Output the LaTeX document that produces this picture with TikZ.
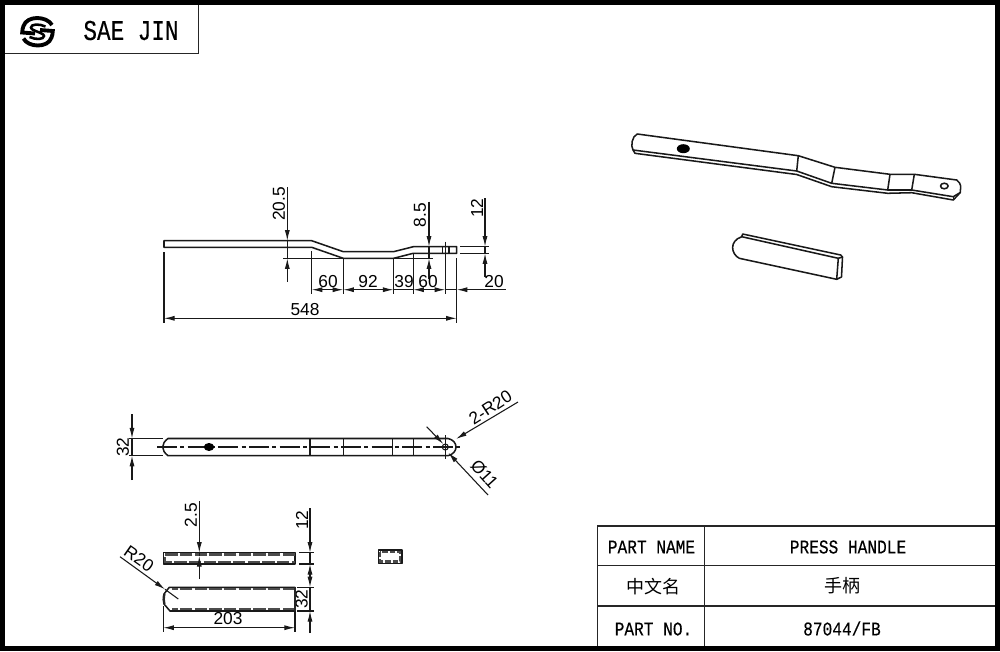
\documentclass[tikz,border=0pt]{standalone}
\usepackage{fontspec}
\usetikzlibrary{arrows.meta}
\setmainfont{Liberation Sans}
\newfontfamily\cadfont[FakeStretch=0.83,FakeBold=0.25]{Liberation Mono}
\newfontfamily\logofont[FakeStretch=0.79,FakeBold=0.25]{Liberation Mono}
\newfontfamily\cjkfont{Noto Sans CJK SC}
\tikzset{
  frameline/.style={draw=black,line width=4pt},
  outline/.style={draw=black!90,line width=1.15pt,line join=round},
  thinline/.style={draw=black!90,line width=0.8pt},
  cellline/.style={draw=black!85,line width=1.05pt},
  hiddenline/.style={draw=black!70,line width=1.7pt,dash pattern=on 9.2pt off 1.8pt},
  centerline/.style={draw=black!90,line width=0.85pt,dash pattern=on 15pt off 2.5pt on 3pt off 2.5pt},
  tip/.style={-{Latex[length=8pt,width=3.8pt]},draw=black!90,line width=0.8pt},
  tips/.style={{Latex[length=8pt,width=3.8pt]}-{Latex[length=8pt,width=3.8pt]},draw=black!90,line width=0.8pt},
  dimtext/.style={font=\fontsize{13pt}{14pt}\selectfont,inner sep=0pt,text=black},
  celltext/.style={font=\cadfont\fontsize{14.6pt}{16pt}\selectfont,inner sep=0pt,text=black},
  cjktext/.style={font=\cjkfont\fontsize{13.5pt}{15pt}\selectfont,inner sep=0pt,text=black},
  logotext/.style={font=\logofont\fontsize{21.5pt}{23pt}\selectfont,inner sep=0pt,text=black},
}
\begin{document}
\begin{tikzpicture}[x=0.75pt,y=-0.75pt]
\useasboundingbox (0,0) rectangle (1000,651);
\fill[white] (0,0) rectangle (1000,651);

% logo box
\draw[cellline] (4,4) -- (198.5,4) -- (198.5,53.5) -- (4,53.5);
\node[logotext] (brand) at (131,30.5) {SAE JIN};
\draw[black,line width=2.9pt] (52,25) .. controls (47,16) and (27,15) .. (23.5,26) .. controls (22.8,28) and (22.2,30) .. (22.2,32.5) -- (35,33.5);
\draw[black,line width=2.9pt] (23.5,38.5) .. controls (28,47.5) and (48,48.5) .. (51.5,37.5) .. controls (52.2,35.5) and (52.8,33.5) .. (52.8,31) -- (40,30);
\draw[black,line width=1.9pt] (45.5,26.5) .. controls (39,23.5) and (31,24) .. (31,27.5) .. controls (31,31) and (44,32.5) .. (44,36) .. controls (44,39.5) and (36,40) .. (29.5,37);

% side view
\draw[outline] (164,247.3) -- (164,240.7) -- (311.7,240.7) -- (343.3,251.7) -- (393.5,251.7) -- (413.3,246.7) -- (456.7,246.7) -- (456.7,253.3) -- (413.3,253.3) -- (393.5,258.3) -- (343.3,258.3) -- (311.7,247.3) -- cycle;
\draw[thinline] (442.3,246.7) -- (442.3,253.3) (449,246.7) -- (449,253.3);
% side view dimensions
\draw[thinline] (283,258.3) -- (343.3,258.3) (393.5,258.3) -- (433,258.3);
\draw[thinline] (460,246.7) -- (488.5,246.7) (460,253.3) -- (488.5,253.3);
\draw[thinline] (164,252) -- (164,322.7);
\draw[thinline] (311.7,251) -- (311.7,294) (343.3,258.3) -- (343.3,294) (393.5,258.3) -- (393.5,294) (413.3,253.3) -- (413.3,294) (445.3,241.5) -- (445.3,294) (456.7,258) -- (456.7,322.7);
\draw[tip] (287.3,187) -- (287.3,240.7);
\draw[thinline] (287.3,240.7) -- (287.3,258.3);
\draw[tip] (287.3,281.7) -- (287.3,258.3);
\draw[tip] (429,201.5) -- (429,246.7);
\draw[thinline] (429,246.7) -- (429,258.3);
\draw[tip] (429,279) -- (429,258.3);
\draw[tip] (485,198) -- (485,246.7);
\draw[thinline] (485,246.7) -- (485,253.3);
\draw[tip] (485,277) -- (485,253.3);
\draw[tips] (311.7,289.7) -- (343.3,289.7);
\draw[tips] (343.3,289.7) -- (393.5,289.7);
\draw[thinline] (393.5,289.7) -- (413.3,289.7);
\draw[tips] (413.3,289.7) -- (445.3,289.7);
\draw[tip] (505.7,289.7) -- (456.7,289.7);
\draw[thinline] (445.3,289.7) -- (456.7,289.7);
\draw[tips] (164,318.3) -- (456.7,318.3);
\node[dimtext,rotate=90] (d205) at (279,204) {20.5};
\node[dimtext,rotate=90] (d85) at (420,215) {8.5};
\node[dimtext,rotate=90] (d12a) at (477,208) {12};
\node[dimtext] (d60a) at (328,282) {60};
\node[dimtext] (d92) at (368,282) {92};
\node[dimtext] (d39) at (404,282) {39};
\node[dimtext] (d60b) at (428,282) {60};
\node[dimtext] (d20) at (494,282) {20};
\node[dimtext] (d548) at (305,310) {548};

% top view
\draw[outline] (168,438.5) .. controls (164.5,441) and (162.7,444) .. (162.7,447) .. controls (162.7,450) and (164.5,453) .. (168,455.7) -- (448,455.7) .. controls (453,454.5) and (456,451) .. (456,447) .. controls (456,443) and (453,439.5) .. (448,438.5) -- cycle;
\draw[thinline] (310,438.5) -- (310,455.7) (343.5,438.5) -- (343.5,455.7) (392.3,438.5) -- (392.3,455.7) (413.3,438.5) -- (413.3,455.7);
\draw[centerline] (157,447) -- (460,447);
\draw[thinline] (445.3,435) -- (445.3,459);
\draw[thinline] (445.3,447) circle (3);
\fill[black] (209,447) ellipse (5.2 and 4);
\draw[thinline] (129,438.5) -- (163,438.5) (129,455.7) -- (163,455.7);
\draw[tip] (132,414) -- (132,438.5);
\draw[thinline] (132,438.5) -- (132,455.7);
\draw[tip] (132,480) -- (132,455.7);
\draw[tip] (518,402) -- (456,439);
\draw[tip] (426.7,426.7) -- (443.3,444);
\draw[tip] (488,495) -- (448.3,452.7);
\node[dimtext,rotate=90] (d32a) at (123,447) {32};
\node[dimtext,rotate=33] (d2r) at (490.5,407.5) {2-R20};
\node[dimtext,rotate=-48] (dphi) at (484.5,474) {Ø11};

% lower view, narrow
\draw[outline] (295,552.7) -- (163.3,552.7) -- (163.3,564) -- (295,564) -- cycle;
\draw[hiddenline] (295,554.6) -- (165.2,554.6) -- (165.2,562.2) -- (295,562.2);
\draw[tip] (199.3,501) -- (199.3,552.7);
\draw[thinline] (199.3,552.7) -- (199.3,556);
\draw[tip] (199.3,579) -- (199.3,556);
\draw[thinline] (299,552.7) -- (314,552.7) (299,564) -- (314,564) (297,587.3) -- (314,587.3) (297,611) -- (314,611);
\draw[tip] (310,508) -- (310,552.7);
\draw[thinline] (310,552.7) -- (310,564);
\draw[tips] (310,564) -- (310,587.3);
\draw[thinline] (310,587.3) -- (310,611);
\draw[tip] (310,633) -- (310,611);
\node[dimtext,rotate=90] (d25) at (191,515) {2.5};
\node[dimtext,rotate=90] (d12b) at (302,520) {12};
\node[dimtext,rotate=90] (d32b) at (301.7,599) {32};

% lower view, wide
\draw[outline] (295,587.3) -- (169.3,587.3) -- (164,594) .. controls (163,598) and (163,601) .. (164,604) -- (170,611) -- (295,611) -- cycle;
\draw[hiddenline] (295,589) -- (172,589);
\draw[hiddenline] (295,609.3) -- (172,609.3);
\draw[black!85,line width=1.6pt] (295,587.3) -- (295,611);
\draw[black!85,line width=1.4pt] (164.6,594) .. controls (163.8,598) and (163.8,601) .. (164.6,604);
\draw[thinline] (163.3,606) -- (163.3,631.7) (295,611) -- (295,631.7);
\draw[tips] (163.3,627.7) -- (295,627.7);
\draw[tip] (120,556.7) -- (165,589.3);
\draw[thinline] (165,589.3) -- (178.3,599);
\node[dimtext] (d203) at (228,619) {203};
\node[dimtext,rotate=-35] (dr20) at (139,559) {R20};

% end section
\draw[outline] (378.3,550) rectangle (402,563.3);
\draw[hiddenline,dash pattern=on 4pt off 1.5pt] (380.2,551.9) rectangle (400.1,561.4);

% isometric handle
\draw[outline] (637.3,134) -- (798.3,155.7) -- (835,167.3) -- (890,174.3) -- (914.3,174.3) -- (956.7,180) .. controls (959,182) and (960.7,184) .. (960.7,186) -- (960.3,192.5) -- (953.3,200) -- (911.7,192.7) -- (887.7,193.3) -- (831.7,186.7) -- (796.7,174.5) -- (635,153.3) -- (633,150) .. controls (630.5,146) and (632,136) .. (637.3,134) -- cycle;
\draw[outline] (633,150) -- (796.7,171) -- (831.7,183.3) -- (887.7,190) -- (911.7,190) -- (953.3,196.7) -- (960.3,192.5);
\draw[outline] (953.3,196.7) -- (953.3,200);
\draw[outline] (798.3,155.7) -- (796.7,171) (835,167.3) -- (831.7,183.3) (890,174.3) -- (887.7,190) (914.3,174.3) -- (911.7,190);
\fill[black] (683.3,148.7) ellipse (6.5 and 4.5);
\draw[outline] (944.3,186) ellipse (3.8 and 2.8);

% isometric bar
\draw[outline] (742.7,234) -- (840.7,255) -- (842.5,257) -- (841.5,277) -- (836.7,279.3) -- (739.3,258.3) .. controls (731,254) and (729,241) .. (741.7,236.7) -- cycle;
\draw[outline] (741.7,236.7) -- (838.3,258.3) -- (836.7,279.3);
\draw[outline] (838.3,258.3) -- (842.5,257);

% title table
\draw[cellline] (996,526) -- (597.3,526) -- (597.3,646);
\draw[cellline] (704.7,526) -- (704.7,646);
\draw[cellline] (597.3,565.7) -- (996,565.7) (597.3,606) -- (996,606);
\node[celltext] (l1) at (651.5,547) {PART NAME};
\node[celltext] (v1) at (848,547) {PRESS HANDLE};
\node[cjktext] (l2) at (653,586.5) {中文名};
\node[cjktext] (v2) at (842,585.5) {手柄};
\node[celltext] (l3) at (653.5,629) {PART NO.};
\node[celltext] (v3) at (842,628.5) {87044/FB};

% frame
\draw[frameline] (2.5,2.5) rectangle (997.5,648.2);
\end{tikzpicture}
\end{document}
